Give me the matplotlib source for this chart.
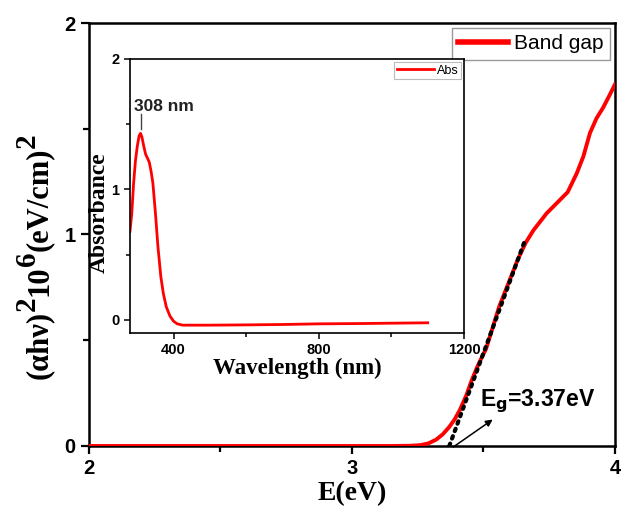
import matplotlib.pyplot as plt

plt.rcParams['font.family'] = 'Liberation Sans'

# Tauc plot data: photon energy (eV) vs (alpha h nu)^2 in units of 10^6 (eV/cm)^2
energy = [2.0, 2.5, 3.0, 3.15, 3.22, 3.26, 3.29, 3.32, 3.345, 3.37, 3.39, 3.41,
          3.435, 3.455, 3.475, 3.49, 3.51, 3.535, 3.56, 3.595, 3.63, 3.66,
          3.69, 3.715, 3.74, 3.78, 3.82, 3.855, 3.88, 3.905, 3.93, 3.955,
          3.98, 4.0]
tauc = [0.0, 0.0, 0.0, 0.0, 0.001, 0.004, 0.012, 0.03, 0.055, 0.09, 0.125, 0.17,
        0.24, 0.31, 0.37, 0.41, 0.46, 0.56, 0.66, 0.77, 0.88, 0.96,
        1.02, 1.06, 1.10, 1.15, 1.20, 1.29, 1.37, 1.48, 1.55, 1.60,
        1.66, 1.71]

fit_x = [3.37, 3.66]
fit_y = [0.0, 0.98]

# UV-vis absorbance spectrum (inset)
wavelength = [280, 285, 290, 295, 300, 305, 309, 313, 318, 323, 328, 333, 338,
              343, 350, 357, 365, 372, 380, 390, 400, 410, 425, 500, 600, 700,
              800, 900, 1000, 1100]
absorbance = [0.68, 0.82, 1.05, 1.22, 1.33, 1.41, 1.43, 1.40, 1.33, 1.27, 1.24,
              1.21, 1.14, 1.05, 0.82, 0.56, 0.33, 0.20, 0.10, 0.03, -0.01,
              -0.03, -0.04, -0.04, -0.038, -0.035, -0.03, -0.028, -0.025, -0.022]

W, H = 622, 516
fig = plt.figure(figsize=(W / 100, H / 100), dpi=100)
ax = fig.add_axes([0.1431, 0.1357, 0.8456, 0.8197])

ax.plot(energy, tauc, color='red', lw=2.8, label='Band gap', zorder=3)
ax.plot(fit_x, fit_y, color='black', lw=3, linestyle=(0, (0.6, 1.3)),
        dash_capstyle='round', zorder=4)
ax.annotate('', xy=(3.535, 0.125), xytext=(3.385, -0.005),
            arrowprops=dict(arrowstyle='-|>', color='black', lw=1.1,
                            mutation_scale=10, shrinkA=0, shrinkB=0))
ax.text(3.487, 0.19, r'E$_\mathbf{g}$=3.37eV', fontsize=16.5, fontweight='bold',
        math_fontfamily='dejavusans')

ax.set_xlim(2, 4)
ax.set_ylim(0, 2)
ax.set_xticks([2, 3, 4])
ax.set_xticks([2.5, 3.5], minor=True)
ax.set_yticks([0, 1, 2])
ax.set_yticks([0.5, 1.5], minor=True)
ax.tick_params(which='both', direction='out', width=1.6, labelsize=14.5)
ax.tick_params(which='major', length=6)
ax.tick_params(which='minor', length=4)
for t in ax.get_xticklabels() + ax.get_yticklabels():
    t.set_fontweight('bold')
for s in ax.spines.values():
    s.set_linewidth(1.8)

ax.set_xlabel('E(eV)', fontsize=20, fontweight='bold', family='Liberation Serif',
              labelpad=2)

leg = ax.legend(loc='upper right', fontsize=15, handlelength=2.4,
                fancybox=False, edgecolor='gray', borderaxespad=0.25,
                borderpad=0.3, handletextpad=0.3)
leg.get_frame().set_linewidth(1.0)
leg.get_lines()[0].set_linewidth(4)

# y label built piece by piece so the superscripts stay near full size
renderer = fig.canvas.get_renderer()
ylabel_parts = [('(αhν)', 22, 0), ('2', 21, 12), ('10', 22, 0), ('6', 21, 12),
                ('(eV/cm)', 22, 0), ('2', 21, 12)]
widths = []
for s, size, rise in ylabel_parts:
    tmp = fig.text(0, 0, s, fontsize=size, family='Liberation Serif',
                   fontweight='bold')
    widths.append(tmp.get_window_extent(renderer).width)
    tmp.remove()
base_x = 47
pos = (H - 256) - sum(widths) / 2
for (s, size, rise), w in zip(ylabel_parts, widths):
    fig.text((base_x - rise) / W, pos / H, s, fontsize=size,
             family='Liberation Serif', fontweight='bold', rotation=90,
             rotation_mode='anchor', ha='left', va='baseline')
    pos += w

# inset with the absorbance spectrum
ins = fig.add_axes([0.209, 0.3547, 0.537, 0.531])
ins.plot(wavelength, absorbance, color='red', lw=2, label='Abs')
ins.plot([309, 309], [1.46, 1.58], color='#444444', lw=1)
ins.text(290, 1.6, '308 nm', fontsize=12.5, fontweight='bold', color='#222222')

ins.set_xlim(280, 1200)
ins.set_ylim(-0.1, 2)
ins.set_xticks([400, 800, 1200])
ins.set_xticks([600, 1000], minor=True)
ins.set_yticks([0, 1, 2])
ins.set_yticks([0.5, 1.5], minor=True)
ins.tick_params(which='both', direction='out', width=1.1, labelsize=10.5)
ins.tick_params(which='major', length=4)
ins.tick_params(which='minor', length=3)
for t in ins.get_xticklabels() + ins.get_yticklabels():
    t.set_fontweight('bold')
for s in ins.spines.values():
    s.set_linewidth(1.2)

ins.set_xlabel('Wavelength (nm)', fontsize=16.5, fontweight='bold',
               family='Liberation Serif', labelpad=0)
ins.set_ylabel('Absorbance', fontsize=17, fontweight='bold',
               family='Liberation Serif')
ins.yaxis.set_label_coords(-0.062, 0.44)

leg2 = ins.legend(loc='upper right', fontsize=9, handlelength=3,
                  fancybox=False, edgecolor='#aaaaaa', borderaxespad=0.25,
                  borderpad=0.2, handletextpad=0.2)
leg2.get_frame().set_linewidth(0.8)

fig.savefig('out.png', dpi=100)
